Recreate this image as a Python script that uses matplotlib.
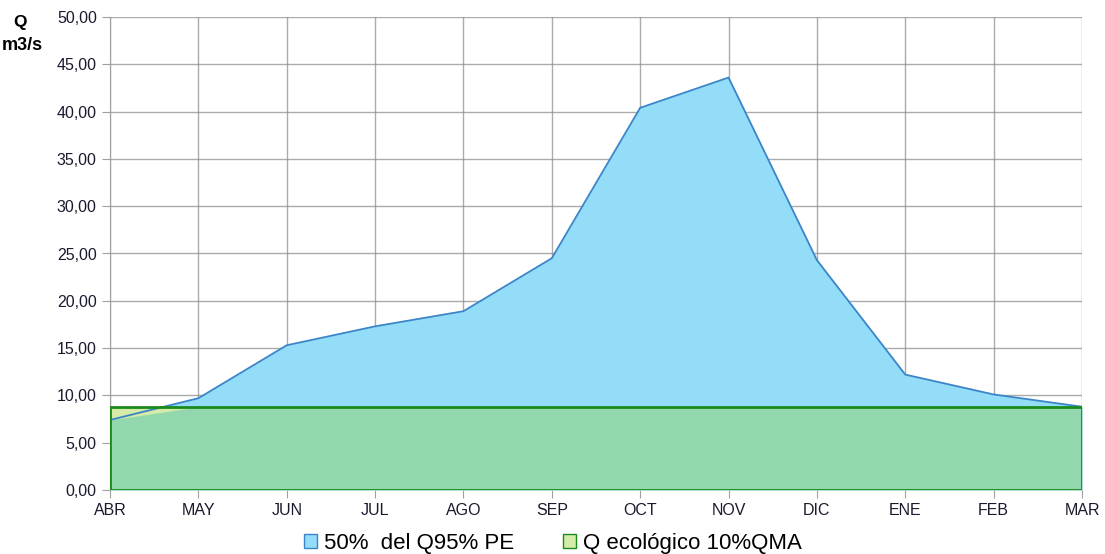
import numpy as np
import matplotlib.pyplot as plt
from matplotlib.patches import Patch

plt.rcParams['font.family'] = ['Liberation Sans', 'DejaVu Sans']

meses = ["ABR", "MAY", "JUN", "JUL", "AGO", "SEP", "OCT", "NOV", "DIC", "ENE", "FEB", "MAR"]
q95_pe = [7.4, 9.7, 15.3, 17.3, 18.9, 24.5, 40.4, 43.6, 24.3, 12.2, 10.1, 8.8]
q_eco = [8.8] * 12

x = np.arange(len(meses))
q95 = np.array(q95_pe)
eco = np.array(q_eco)

fig = plt.figure(figsize=(11.05, 5.54), dpi=100)
ax = fig.add_axes([110 / 1105, 64 / 554, 972 / 1105, 473 / 554])

ax.fill_between(x, 0, q95, color="#93DDF8", lw=0, zorder=2)
ax.fill_between(x, 0, eco, color="#D5ECA8", lw=0, zorder=2)
ax.fill_between(x, 0, np.minimum(q95, eco), color="#93D7AE", lw=0, zorder=3)
ax.plot(x, q95, color="#3A85C8", lw=1.3, zorder=4)
# borde del caudal ecologico
ax.plot([x[0], x[0], x[-1], x[-1]], [0, eco[0], eco[-1], 0], color="#1A8A1A", lw=2, zorder=5)
ax.plot([x[0], x[-1]], [0, 0], color="#1A8A1A", lw=2, zorder=5)

ax.set_xlim(0, len(meses) - 1)
ax.set_ylim(0, 50)
ax.set_xticks(x)
ax.set_xticklabels(meses)
ax.set_yticks(np.arange(0, 51, 5))
ax.set_yticklabels([f"{v:.2f}".replace(".", ",") for v in np.arange(0, 51, 5)])
ax.grid(True, color="#888888", lw=1, alpha=0.7)
for s in ax.spines.values():
    s.set_visible(False)
ax.spines["left"].set_visible(True)
ax.spines["left"].set_color("#A0A0A0")
ax.tick_params(colors="#A0A0A0", labelcolor="#1a1a2e", labelsize=11.5, length=6)
for g in ax.get_xgridlines() + ax.get_ygridlines():
    g.set_zorder(3.5)

fig.text(20 / 1105, 1 - 23 / 554, "Q", ha="center", va="center", fontsize=12.5, fontweight="bold")
fig.text(43 / 1105, 1 - 45 / 554, "m3/s", ha="right", va="center", fontsize=13, fontweight="bold")

handles = [Patch(facecolor="#93DDF8", edgecolor="#3A85C8"), Patch(facecolor="#D5ECA8", edgecolor="#1A8A1A")]
fig.legend(handles, ["50%  del Q95% PE", "Q ecológico 10%QMA"], loc="center", bbox_to_anchor=(0.5, 1 - 543 / 554),
           ncol=2, frameon=False, fontsize=16, handlelength=0.6, handleheight=0.6, handletextpad=0.3, columnspacing=2.2)

plt.savefig("out.png", dpi=100)
